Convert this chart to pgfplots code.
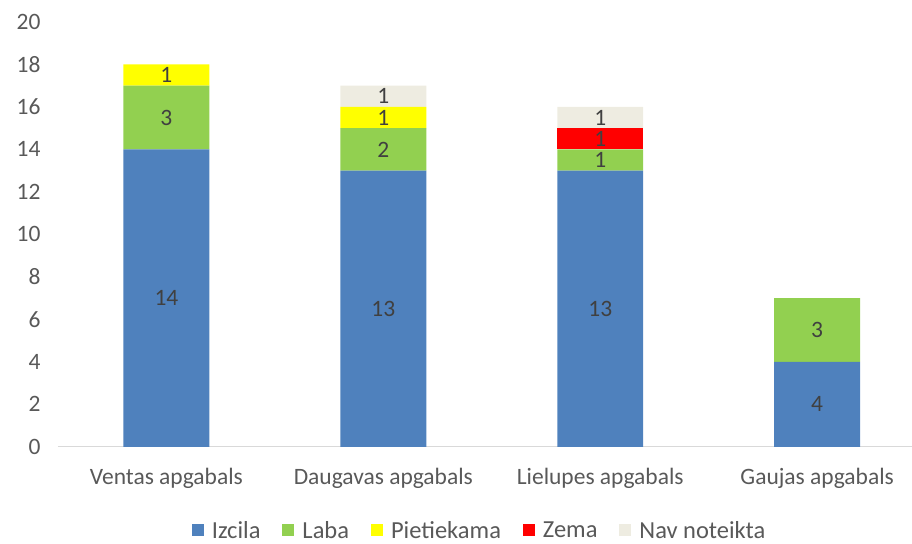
\documentclass[border=0pt]{standalone}
\usepackage{fontspec}
\setmainfont{Carlito}
\usepackage{pgfplots}
\pgfplotsset{compat=1.18}
\definecolor{cBlue}{HTML}{4F81BD}
\definecolor{cGreen}{HTML}{92D050}
\definecolor{cYellow}{HTML}{FFFF00}
\definecolor{cRed}{HTML}{FF0000}
\definecolor{cBeige}{HTML}{EEECE1}
\definecolor{cText}{HTML}{595959}
\definecolor{cLab}{HTML}{404040}
\definecolor{cAxis}{HTML}{D9D9D9}
\begin{document}
\begin{tikzpicture}[font=\fontsize{23.5}{27}\selectfont]
\begin{axis}[
  ybar stacked, bar width=86pt,
  scale only axis, width=854pt, height=425pt,
  xmin=-0.5, xmax=3.435, ymin=0, ymax=20,
  xtick={0,1,2,3},
  xticklabels={Ventas apgabals, Daugavas apgabals, Lielupes apgabals, Gaujas apgabals},
  ytick={0,2,...,20},
  axis x line*=bottom, axis y line*=left,
  y axis line style={draw=none},
  x axis line style={draw=cAxis, line width=1pt},
  major tick length=0pt,
  tick label style={text=cText},
  yticklabel style={xshift=-14pt},
  xticklabel style={yshift=-18pt},
  /pgf/number format/assume math mode=true,
  point meta=explicit symbolic,
  nodes near coords={\ifnum\pgfplotspointmeta=0 \else\pgfplotspointmeta\fi},
  every node near coord/.append style={text=cLab, font=\fontsize{23.5}{27}\selectfont},
  legend style={at={(0.494,-0.165)}, anchor=north, draw=none, legend columns=5,
    /tikz/every odd column/.append style={column sep=6pt},
    /tikz/every even column/.append style={column sep=20pt},
    text=cText, font=\fontsize{24.5}{28}\selectfont},
  legend image code/.code={\fill[#1] (0pt,-6pt) rectangle (12pt,6pt);},
]
\addplot[fill=cBlue, draw=none] coordinates {(0,14)[14] (1,13)[13] (2,13)[13] (3,4)[4]};
\addplot[fill=cGreen, draw=none] coordinates {(0,3)[3] (1,2)[2] (2,1)[1] (3,3)[3]};
\addplot[fill=cYellow, draw=none] coordinates {(0,1)[1] (1,1)[1] (2,0)[0] (3,0)[0]};
\addplot[fill=cRed, draw=none] coordinates {(0,0)[0] (1,0)[0] (2,1)[1] (3,0)[0]};
\addplot[fill=cBeige, draw=none] coordinates {(0,0)[0] (1,1)[1] (2,1)[1] (3,0)[0]};
\legend{Izcila, Laba, Pietiekama, Zema, Nav noteikta}
\end{axis}
\path ([xshift=-58pt,yshift=22pt]current axis.north west);
\end{tikzpicture}
\end{document}
